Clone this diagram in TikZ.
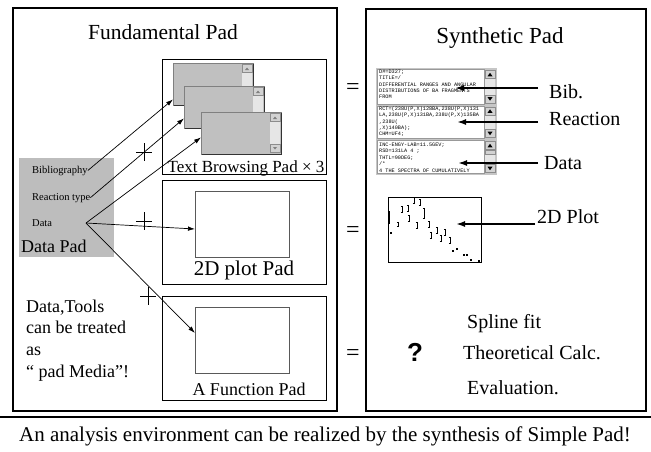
\documentclass[tikz,border=0pt]{standalone}
\usepackage{fontspec}
\setmainfont{Liberation Serif}
\newfontfamily\monof{Liberation Mono}
\newfontfamily\sansf{Liberation Sans}
\usetikzlibrary{arrows.meta,calc}

\definecolor{padgray}{HTML}{BDBDBD}
\definecolor{wingray}{HTML}{C0C0C0}
\definecolor{trackgray}{HTML}{E6E6E6}
\definecolor{btngray}{HTML}{D2D2D2}
\definecolor{framegray}{HTML}{C6C6C6}

\newcommand\tsize[1]{\fontsize{#1}{#1}\selectfont}

% one gray browsing window: name, left x, top y
\newcommand\browsewin[3]{%
  \fill[wingray] (#2,#3) rectangle (#2+80,#3+42);
  \fill[trackgray] (#2+69,#3+1) rectangle (#2+79,#3+41);
  \draw[btnstyle] (#2+69,#3+1.5) rectangle (#2+79,#3+9.5);
  \fill[black!50] (#2+72,#3+7) -- (#2+76,#3+7) -- (#2+74,#3+4.5) -- cycle;
  \draw[btnstyle] (#2+69,#3+32.5) rectangle (#2+79,#3+40.5);
  \fill[black!50] (#2+72,#3+35) -- (#2+76,#3+35) -- (#2+74,#3+37.5) -- cycle;
  \draw[black!50, line width=0.6pt] (#2,#3) rectangle (#2+80,#3+42);
  \draw[black!80, line width=1pt] (#2+0.5,#3+42.5) -- (#2+80.5,#3+42.5) -- (#2+80.5,#3+0.5);
  \node[inner sep=0pt, minimum width=80pt, minimum height=42pt, anchor=north west] (#1) at (#2,#3) {};
}

% scroll bar of one text panel: top y, bottom y
\newcommand\panelbar[2]{%
  \fill[trackgray] (485,#1+0.5) rectangle (495,#2-0.5);
  \draw[btnstyle] (485.3,#1+1) rectangle (494.7,#1+9);
  \fill[black] (487.5,#1+6.8) -- (492.5,#1+6.8) -- (490,#1+3.3) -- cycle;
  \draw[btnstyle] (485.3,#2-9) rectangle (494.7,#2-1);
  \fill[black] (487.5,#2-6.8) -- (492.5,#2-6.8) -- (490,#2-3.3) -- cycle;
}

\begin{document}
\begin{tikzpicture}[x=1pt,y=-1pt,
  outer/.style={draw=black, line width=1.3pt},
  padframe/.style={draw=black, line width=1pt},
  innerbox/.style={draw=black!65, line width=0.8pt, fill=white, inner sep=0pt},
  btnstyle/.style={draw=black!45, line width=0.4pt, fill=btngray},
  lbl/.style={inner sep=0pt},
  link/.style={-{Latex[length=7pt,width=4.5pt]}, line width=0.7pt},
  ptr/.style={-{Latex[length=9pt,width=6pt]}, line width=1.7pt},
  panel/.style={draw=black!40, line width=0.5pt, fill=white},
  paneltext/.style={inner sep=0pt, anchor=north west, align=left,
    font=\monof\fontsize{5.2}{6.4}\selectfont}
]
\useasboundingbox (0,0) rectangle (651,451);
\fill[white] (0,0) rectangle (651,451);

% ---------- left half: the fundamental pads ----------
\draw[outer] (13,8) rectangle (337,411);
\node[lbl, anchor=base, font=\tsize{21.5}] (fundtitle) at (163,39) {Fundamental Pad};

\draw[padframe] (162,59) rectangle (326,174);
\draw[padframe] (162,180) rectangle (326,284);
\draw[padframe] (162,296) rectangle (326,400);

\browsewin{w1}{173}{63}
\browsewin{w2}{184}{86}
\browsewin{w3}{201}{112}
\node[lbl, anchor=base, font=\tsize{17}] (textpad) at (246,172) {Text Browsing Pad × 3};

\node[innerbox, anchor=north west, minimum width=94pt, minimum height=66pt] (plotin) at (195,191) {};
\node[lbl, anchor=base, font=\tsize{21}] (plotpad) at (244,275) {2D plot Pad};

\node[innerbox, anchor=north west, minimum width=94pt, minimum height=66pt] (funcin) at (195,307) {};
\node[lbl, anchor=base, font=\tsize{18}] (funcpad) at (249,395) {A Function Pad};

% data pad
\fill[padgray] (19,158) rectangle (114,257);
\node[lbl, anchor=base west, font=\tsize{10.5}] (bibl) at (32,173) {Bibliography};
\node[lbl, anchor=base west, font=\tsize{10.5}] (react) at (32,200) {Reaction type};
\node[lbl, anchor=base west, font=\tsize{10.5}] (datal) at (32,226) {Data};
\node[lbl, anchor=base west, font=\tsize{18}] (datapad) at (21,252) {Data Pad};
\coordinate (dsrc) at (86,223);

% links from the data pad
\draw[link] (bibl.east) -- ($(w1.south west)+(0,-6)$);
\draw[link] (react.east) -- ($(w2.south west)+(0,-10)$);
\draw[link] (dsrc) -- ($(w3.south west)+(0,-17)$);
\draw[link] (dsrc) -- ($(plotin.north west)+(0,38)$);
\draw[link] (dsrc) -- ($(funcin.north west)+(0,26)$);

% plus signs
\foreach \px/\py [count=\k] in {144/152, 144/221, 148/296}{
  \coordinate (plus\k) at (\px,\py);
  \draw[line width=0.7pt] ($(plus\k)+(-8,0)$) -- ($(plus\k)+(8,0)$);
  \draw[line width=0.7pt] ($(plus\k)+(0,-9)$) -- ($(plus\k)+(0,9)$);
}

\node[lbl, anchor=base west, font=\tsize{18}] (tools1) at (26,312) {Data,Tools};
\node[lbl, anchor=base west, font=\tsize{18}] (tools2) at (26,333) {can be treated};
\node[lbl, anchor=base west, font=\tsize{18}] (tools3) at (26,355) {as};
\node[lbl, anchor=base west, font=\tsize{18}] (tools4) at (26,377) {“ pad Media”!};

% equal signs
\node[lbl, font=\tsize{24}] (eq1) at (353,89) {=};
\node[lbl, font=\tsize{24}] (eq2) at (353,232) {=};
\node[lbl, font=\tsize{24}] (eq3) at (353,355) {=};

% ---------- right half: the synthetic pad ----------
\draw[outer] (366,9) rectangle (646,411);
\node[lbl, anchor=base, font=\tsize{23}] (syntitle) at (500,43) {Synthetic Pad};

\fill[framegray] (376,68) rectangle (497,175);
\draw[panel] (377.5,69.5) rectangle (484.5,104);
\draw[panel] (377.5,106) rectangle (484.5,138.5);
\draw[panel] (377.5,140.5) rectangle (484.5,173.5);
\panelbar{69.5}{104}
\panelbar{106}{138.5}
\panelbar{140.5}{173.5}
\draw[btnstyle] (485.3,150) rectangle (494.7,154);

\node[paneltext] (txtbib) at (379,69.6) {D\#=D327;\\TITLE=/\\DIFFERENTIAL RANGES AND ANGULAR\\DISTRIBUTIONS OF BA FRAGMENTS\\FROM};
\node[paneltext] (txtrct) at (379,106.3) {RCT=(238U(P,X)128BA,238U(P,X)131\\LA,238U(P,X)131BA,238U(P,X)135BA\\,238U(\\,X)140BA);\\CHM=UF4;};
\node[paneltext] (txtdat) at (379,142.8) {INC-ENGY-LAB=11.5GEV;\\RSD=131LA 4 ;\\THTL=90DEG;\\/*\\ 4  THE SPECTRA OF CUMULATIVELY};

\node[lbl, anchor=base west, font=\tsize{20}] (bibr) at (549,98) {Bib.};
\node[lbl, anchor=base west, font=\tsize{20}] (reactr) at (549,125) {Reaction};
\node[lbl, anchor=base west, font=\tsize{20}] (datar) at (544,169) {Data};
\node[lbl, anchor=base west, font=\tsize{20}] (plotr) at (537,223) {2D Plot};

\coordinate (tbib) at (455,88);
\coordinate (trct) at (457,122);
\coordinate (tdat) at (458,163);
\coordinate (tplot) at (456,224);
\draw[ptr] ($(bibr.west |- tbib)+(-11,0)$) -- (tbib);
\draw[ptr] ($(reactr.west |- trct)+(-11,0)$) -- (trct);
\draw[ptr] ($(datar.west |- tdat)+(-6,0)$) -- (tdat);
\draw[ptr] ($(plotr.west |- tplot)+(-2,0)$) -- (tplot);

% small scatter plot with error bars
\draw[line width=0.9pt] (388,197) rectangle (481,262);
\foreach \x/\y/\h in {389/217/6, 398/224/2, 402/209/3, 408/208/3, 409/218/3,
    414/200/3, 417/225/3, 420/202/3, 424/213/5, 429/224/3, 431/235/3,
    437/230/3, 441/238/3, 445/232/3, 450/240/3}{
  \draw[line width=0.45pt] (\x,\y-\h) -- (\x,\y+\h);
  \draw[line width=0.4pt] (\x-1.2,\y-\h) -- (\x+1.2,\y-\h) (\x-1.2,\y+\h) -- (\x+1.2,\y+\h);
}
\foreach \x/\y in {391/233, 453/251, 457/249, 464/255, 467/255, 471/260, 479/261}{
  \fill (\x-0.7,\y-0.7) rectangle (\x+0.7,\y+0.7);
}

\node[lbl, font=\sansf\bfseries\tsize{26}] (quest) at (415,352) {?};
\node[lbl, anchor=base west, font=\tsize{20}] (spline) at (467,328) {Spline fit};
\node[lbl, anchor=base west, font=\tsize{20}] (theory) at (463,359) {Theoretical Calc.};
\node[lbl, anchor=base west, font=\tsize{20}] (evalu) at (467,394) {Evaluation.};

% ---------- bottom line ----------
\draw[line width=2.2pt] (0,417) -- (651,417);
\node[lbl, anchor=base, font=\tsize{21}] (summary) at (325,441) {An analysis environment can be realized by the synthesis of Simple Pad!};
\end{tikzpicture}
\end{document}
